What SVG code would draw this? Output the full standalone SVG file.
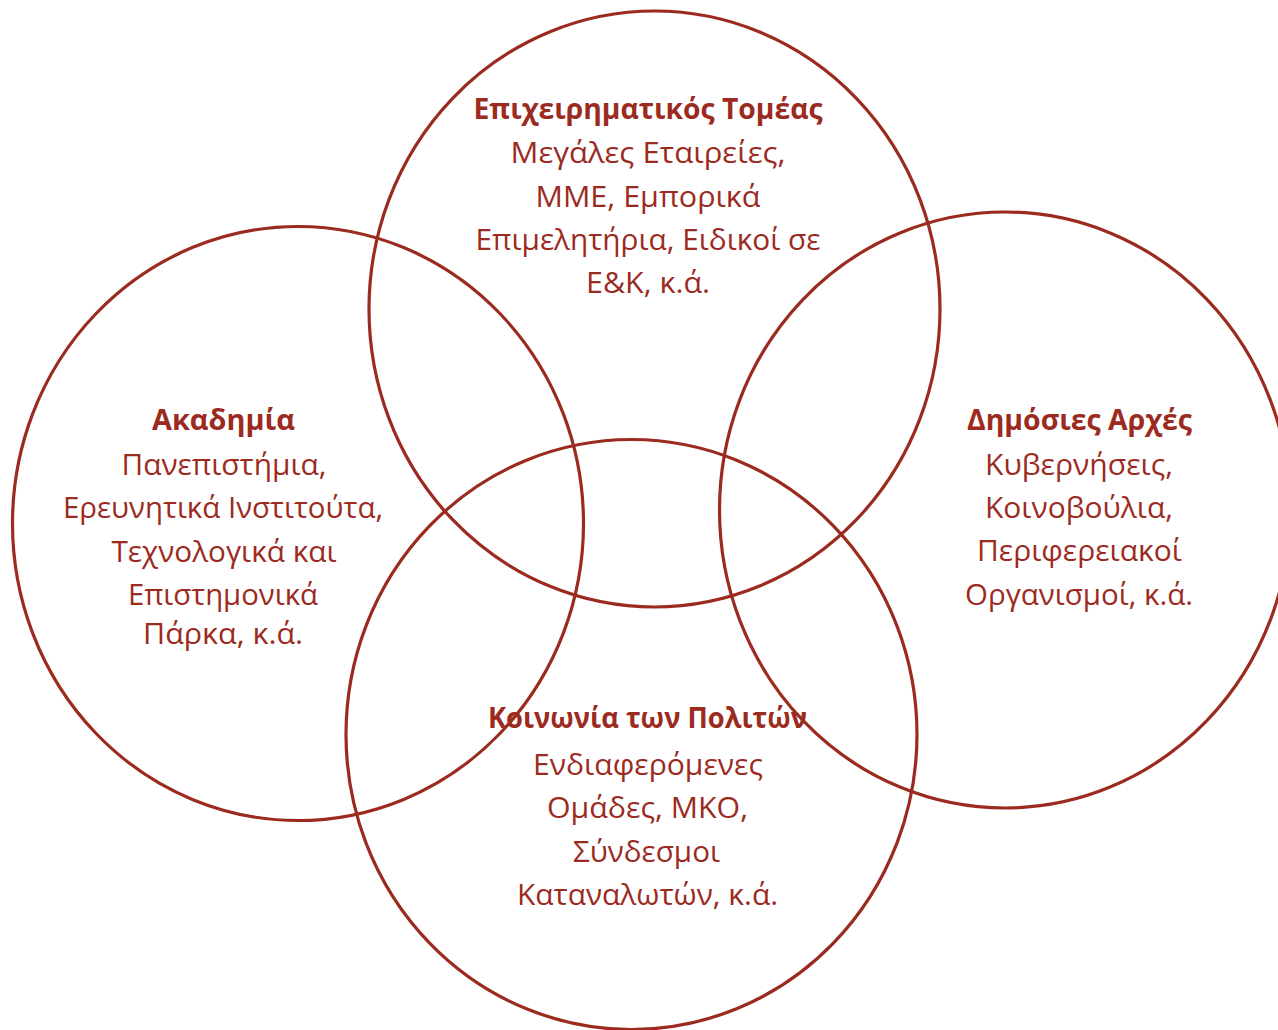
<svg xmlns="http://www.w3.org/2000/svg" width="1278" height="1030" viewBox="0 0 1278 1030">
<style>
.c{fill:none;stroke:#9B2B1F;stroke-width:3.2}
text{font-family:"Open Sans","Noto Sans","DejaVu Sans",sans-serif;font-size:29px;fill:#9B2B1F;text-anchor:middle}
.b{font-weight:bold}
</style>
<rect width="1278" height="1030" fill="#fff"/>
<g id="business">
<ellipse class="c" cx="654.5" cy="309" rx="285.5" ry="298"/>
<text class="b" x="648" y="119" textLength="349" lengthAdjust="spacingAndGlyphs">Επιχειρηματικός Τομέας</text>
<text x="648" y="163" textLength="275" lengthAdjust="spacingAndGlyphs">Μεγάλες Εταιρείες,</text>
<text x="648" y="207" textLength="225" lengthAdjust="spacingAndGlyphs">ΜΜΕ, Εμπορικά</text>
<text x="648" y="250" textLength="345" lengthAdjust="spacingAndGlyphs">Επιμελητήρια, Ειδικοί σε</text>
<text x="648" y="293" textLength="124" lengthAdjust="spacingAndGlyphs">Ε&amp;Κ, κ.ά.</text>
</g>
<g id="academia">
<ellipse class="c" cx="298" cy="523.5" rx="285.5" ry="297"/>
<text class="b" x="223.5" y="430" textLength="143" lengthAdjust="spacingAndGlyphs">Ακαδημία</text>
<text x="224" y="475" textLength="205" lengthAdjust="spacingAndGlyphs">Πανεπιστήμια,</text>
<text x="223" y="518" textLength="320" lengthAdjust="spacingAndGlyphs">Ερευνητικά Ινστιτούτα,</text>
<text x="224" y="562" textLength="225" lengthAdjust="spacingAndGlyphs">Τεχνολογικά και</text>
<text x="223" y="605" textLength="190" lengthAdjust="spacingAndGlyphs">Επιστημονικά</text>
<text x="223" y="644" textLength="160" lengthAdjust="spacingAndGlyphs">Πάρκα, κ.ά.</text>
</g>
<g id="public">
<ellipse class="c" cx="1005" cy="510" rx="285.5" ry="298"/>
<text class="b" x="1079.5" y="430" textLength="225" lengthAdjust="spacingAndGlyphs">Δημόσιες Αρχές</text>
<text x="1079" y="475" textLength="188" lengthAdjust="spacingAndGlyphs">Κυβερνήσεις,</text>
<text x="1079" y="518" textLength="188" lengthAdjust="spacingAndGlyphs">Κοινοβούλια,</text>
<text x="1079.5" y="561" textLength="205" lengthAdjust="spacingAndGlyphs">Περιφερειακοί</text>
<text x="1079" y="605" textLength="228" lengthAdjust="spacingAndGlyphs">Οργανισμοί, κ.ά.</text>
</g>
<g id="society">
<ellipse class="c" cx="631.5" cy="734.5" rx="285.5" ry="295"/>
<text class="b" x="647.5" y="728" textLength="319" lengthAdjust="spacingAndGlyphs">Κοινωνία των Πολιτών</text>
<text x="648" y="775" textLength="230" lengthAdjust="spacingAndGlyphs">Ενδιαφερόμενες</text>
<text x="647.5" y="818" textLength="201" lengthAdjust="spacingAndGlyphs">Ομάδες, ΜΚΟ,</text>
<text x="646.5" y="862" textLength="147" lengthAdjust="spacingAndGlyphs">Σύνδεσμοι</text>
<text x="647.5" y="905" textLength="261" lengthAdjust="spacingAndGlyphs">Καταναλωτών, κ.ά.</text>
</g>
<g id="connectors"></g>
</svg>
